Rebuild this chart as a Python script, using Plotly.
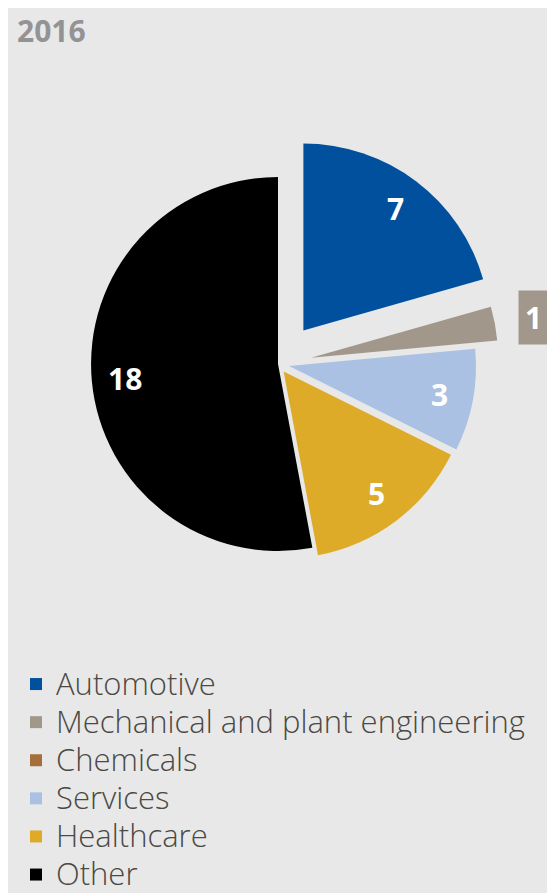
import math
import plotly.graph_objects as go

# Portfolio by sector, 2016
year_label = "2016"
sectors = ["Automotive", "Mechanical and plant engineering", "Chemicals",
           "Services", "Healthcare", "Other"]
counts = [7, 1, 0, 3, 5, 18]
colors = ["#00509e", "#a1978b", "#a56f3b", "#abc1e3", "#deab28", "#000000"]
pulls = [0.225, 0.18, 0.0, 0.06, 0.05, 0.0]

W, H = 547, 893
BG = "#e8e8e8"

# pie geometry in pixels (margins are zero and fixed, so paper fractions map directly)
CX, CY, HALF = 278, 364, 229
dom_x = [(CX - HALF) / W, (CX + HALF) / W]
dom_y = [(H - CY - HALF) / H, (H - CY + HALF) / H]
radius = HALF / (1 + max(pulls))

legend_labels = ['<span style="font-size:31px">%s</span>' % s for s in sectors]

fig = go.Figure(go.Pie(
    labels=legend_labels,
    values=counts,
    marker=dict(colors=colors, line=dict(width=0)),
    pull=pulls,
    sort=False,
    direction="clockwise",
    rotation=0,
    textinfo="none",
    hovertext=sectors,
    hoverinfo="text+value",
    domain=dict(x=dom_x, y=dom_y),
))

fig.add_shape(type="rect", xref="paper", yref="paper",
              x0=8 / W, x1=1, y0=0, y1=(H - 8) / H,
              fillcolor=BG, line=dict(width=0), layer="below")

# value labels: placed along each slice's mid-angle, inside the (pulled) slice
total = sum(counts)
label_font = dict(family="Open Sans", size=30, color="white", weight="bold")
cum = 0
for name, v, p, col in zip(sectors, counts, pulls, colors):
    mid = math.radians((cum + v / 2) / total * 360)
    cum += v
    if v == 0:
        continue
    ux, uy = math.sin(mid), -math.cos(mid)
    if name == "Mechanical and plant engineering":
        # too thin for an inside label: tag at the right edge
        fig.add_annotation(
            text=str(v), xref="paper", yref="paper",
            x=518 / W, y=(H - 318) / H, xanchor="left", yanchor="middle",
            showarrow=False, bgcolor=col, borderpad=6, font=label_font,
        )
        continue
    ax = CX + p * radius * ux
    ay = CY + p * radius * uy
    lx = ax + 0.82 * radius * ux
    ly = ay + 0.82 * radius * uy
    fig.add_annotation(
        text=str(v), xref="paper", yref="paper",
        x=lx / W, y=1 - ly / H, xanchor="center", yanchor="middle",
        showarrow=False, font=label_font,
    )

fig.update_layout(
    width=W, height=H,
    margin=dict(l=0, r=0, t=0, b=0, autoexpand=False),
    paper_bgcolor="white",
    plot_bgcolor=BG,
    title=dict(text=year_label, x=17 / W, xanchor="left", xref="paper",
               y=1 - 21 / H, yanchor="top", yref="container",
               font=dict(family="Open Sans", size=30, color="#939395", weight="bold")),
    showlegend=True,
    legend=dict(
        x=16 / W, xanchor="left", y=(H - 660) / H, yanchor="top",
        bgcolor="rgba(0,0,0,0)",
        font=dict(family="Open Sans", size=27, color="#4b4944", weight=300),
        itemclick=False, itemdoubleclick=False,
    ),
)

fig.write_html("out.html")
